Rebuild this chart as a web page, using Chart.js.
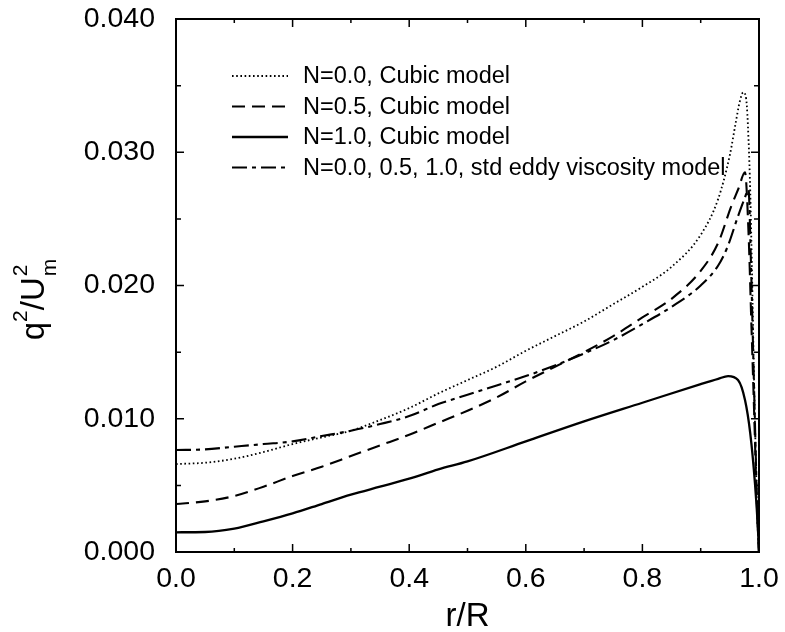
<!DOCTYPE html>
<html><head><meta charset="utf-8">
<script src="https://cdn.jsdelivr.net/npm/chart.js@4.4.1/dist/chart.umd.min.js"></script>
<style>html,body{margin:0;padding:0;background:#fff}#wrap{width:785px;height:632px}</style>
</head><body><div id="wrap"><canvas id="c" width="785" height="632"></canvas></div>
<script>
// ---- data ----
const seriesLabels = [
  'N=0.0, Cubic model',
  'N=0.5, Cubic model',
  'N=1.0, Cubic model',
  'N=0.0, 0.5, 1.0, std eddy viscosity model'
];
const rN00 = [0,0.05,0.1,0.15,0.2,0.25,0.3,0.35,0.4,0.45,0.5,0.55,0.6,0.65,0.7,0.75,0.8,0.85,0.9,0.93,0.95,0.96,0.967,0.973,0.978,0.982,0.985,0.988,0.991,0.994,0.997,1.0];
const qN00 = [0.0066,0.0067,0.0070,0.0075,0.0081,0.0086,0.0091,0.0099,0.0108,0.0119,0.0129,0.0139,0.0151,0.0162,0.0173,0.0186,0.0199,0.0214,0.0238,0.0265,0.0298,0.0322,0.0338,0.0345,0.0340,0.0310,0.0270,0.0210,0.0140,0.0080,0.0030,0.0];
const rN05 = [0,0.05,0.1,0.15,0.2,0.25,0.3,0.35,0.4,0.45,0.5,0.55,0.6,0.65,0.7,0.75,0.8,0.85,0.9,0.93,0.952,0.965,0.976,0.982,0.987,0.992,0.996,1.0];
const qN05 = [0.0036,0.0038,0.0042,0.0049,0.0057,0.0064,0.0072,0.0080,0.0088,0.0097,0.0106,0.0116,0.0128,0.0139,0.0150,0.0162,0.0176,0.0190,0.0211,0.0232,0.0259,0.0273,0.0285,0.0240,0.0170,0.0100,0.0040,0.0];
const rN10 = [0,0.05,0.1,0.15,0.2,0.25,0.3,0.35,0.4,0.45,0.5,0.6,0.7,0.8,0.9,0.93,0.947,0.964,0.976,0.985,0.993,0.998,1.0];
const qN10 = [0.00148,0.0015,0.00175,0.0023,0.0029,0.0036,0.0043,0.0049,0.0055,0.0062,0.0068,0.0083,0.0098,0.0112,0.0126,0.0130,0.0132,0.0129,0.0114,0.0089,0.0052,0.0019,0.0];
const rStd = [0,0.05,0.1,0.15,0.2,0.25,0.3,0.35,0.4,0.45,0.5,0.55,0.6,0.65,0.7,0.75,0.8,0.85,0.9,0.93,0.946,0.964,0.975,0.982,0.986,0.99,0.994,0.997,1.0];
const qStd = [0.00765,0.0077,0.0079,0.0081,0.0083,0.0087,0.0091,0.0096,0.0102,0.0111,0.0118,0.0125,0.0132,0.0140,0.0149,0.0159,0.0171,0.0184,0.0200,0.0215,0.0229,0.0252,0.0265,0.0272,0.0220,0.0150,0.0080,0.0030,0.0];
const xTickLabels = [0.0,0.2,0.4,0.6,0.8,1.0];
const yTickLabels = [0.000,0.010,0.020,0.030,0.040];

const pts = (r,q) => r.map((v,i)=>({x:v,y:q[i]}));
const FONT = "'Liberation Sans', Arial, Helvetica, sans-serif";

const datasets = [
  {label:seriesLabels[0], data:pts(rN00,qN00), borderDash:[1.6,2.6], borderWidth:1.8},
  {label:seriesLabels[1], data:pts(rN05,qN05), borderDash:[13,7], borderWidth:2.1},
  {label:seriesLabels[2], data:pts(rN10,qN10), borderDash:[], borderWidth:2.3},
  {label:seriesLabels[3], data:pts(rStd,qStd), borderDash:[15,5,4,5], borderWidth:2.1}
].map(d=>Object.assign(d,{borderColor:'#000',backgroundColor:'#000',showLine:true,pointRadius:0,fill:false,cubicInterpolationMode:'monotone',borderCapStyle:'butt'}));

const decor = {
  id:'decor',
  afterDraw(chart){
    const {ctx, chartArea:a, scales:{x,y}} = chart;
    ctx.save();
    ctx.strokeStyle='#000';
    // frame
    ctx.lineWidth=2;
    ctx.strokeRect(a.left,a.top,a.right-a.left,a.bottom-a.top);
    // inward ticks on all four sides
    ctx.lineWidth=1.5;
    ctx.beginPath();
    for(let i=0;i<xTickLabels.length;i++){
      const px=x.getPixelForValue(xTickLabels[i]);
      ctx.moveTo(px,a.bottom);ctx.lineTo(px,a.bottom-8);
      ctx.moveTo(px,a.top);ctx.lineTo(px,a.top+8);
      if(i<xTickLabels.length-1){
        const pm=x.getPixelForValue((xTickLabels[i]+xTickLabels[i+1])/2);
        ctx.moveTo(pm,a.bottom);ctx.lineTo(pm,a.bottom-4);
        ctx.moveTo(pm,a.top);ctx.lineTo(pm,a.top+4);
      }
    }
    for(let i=0;i<yTickLabels.length;i++){
      const py=y.getPixelForValue(yTickLabels[i]);
      ctx.moveTo(a.left,py);ctx.lineTo(a.left+8,py);
      ctx.moveTo(a.right,py);ctx.lineTo(a.right-8,py);
      if(i<yTickLabels.length-1){
        const pm=y.getPixelForValue((yTickLabels[i]+yTickLabels[i+1])/2);
        ctx.moveTo(a.left,pm);ctx.lineTo(a.left+5,pm);
        ctx.moveTo(a.right,pm);ctx.lineTo(a.right-5,pm);
      }
    }
    ctx.stroke();

    // legend
    ctx.fillStyle='#000';
    ctx.font='23.5px '+FONT;
    ctx.textBaseline='middle';
    ctx.textAlign='left';
    chart.data.datasets.forEach((d,i)=>{
      const ly=a.top+57+i*30.5;
      ctx.save();
      ctx.lineWidth=d.borderWidth;
      ctx.setLineDash(d.borderDash);
      ctx.beginPath();ctx.moveTo(a.left+56,ly);ctx.lineTo(a.left+112,ly);ctx.stroke();
      ctx.restore();
      ctx.fillText(d.label,a.left+127,ly+1);
    });

    // x title
    ctx.font='33px '+FONT;
    ctx.textAlign='center';
    ctx.textBaseline='alphabetic';
    ctx.fillText('r/R',(a.left+a.right)/2,626);

    // y title: q^2/U_m^2 rotated
    const big='33px '+FONT, small='21px '+FONT;
    ctx.font=big; const wq=ctx.measureText('q').width, wU=ctx.measureText('/U').width;
    ctx.font=small; const w2=ctx.measureText('2').width, wm=ctx.measureText('m').width;
    const total=wq+w2+wU+Math.max(w2,wm)+1;
    ctx.translate(44,(a.top+a.bottom)/2+14);
    ctx.rotate(-Math.PI/2);
    ctx.textAlign='left';
    let cx=-total/2;
    ctx.font=big; ctx.fillText('q',cx,0); cx+=wq;
    ctx.font=small; ctx.fillText('2',cx,-17); cx+=w2;
    ctx.font=big; ctx.fillText('/U',cx,0); cx+=wU+1;
    ctx.font=small; ctx.fillText('2',cx,-17); ctx.fillText('m',cx,12);
    ctx.restore();
  }
};

new Chart(document.getElementById('c'),{
  type:'scatter',
  data:{datasets},
  options:{
    responsive:false,
    devicePixelRatio:1,
    animation:false,
    layout:{padding:{left:0,right:26,top:19,bottom:0}},
    plugins:{legend:{display:false},tooltip:{enabled:false}},
    scales:{
      x:{
        type:'linear',min:0,max:1,
        afterBuildTicks:s=>{s.ticks=xTickLabels.map(v=>({value:v}));},
        afterFit:s=>{s.height=80;s.paddingLeft=0;s.paddingRight=0;},
        grid:{display:false,drawTicks:false},
        border:{display:false},
        ticks:{color:'#000',padding:10,font:{family:FONT,size:28.5},callback:v=>Number(v).toFixed(1),maxRotation:0}
      },
      y:{
        type:'linear',min:0,max:0.04,
        afterBuildTicks:s=>{s.ticks=yTickLabels.map(v=>({value:v}));},
        afterFit:s=>{s.width=176;s.paddingTop=0;s.paddingBottom=0;},
        grid:{display:false,drawTicks:false},
        border:{display:false},
        ticks:{color:'#000',padding:21,font:{family:FONT,size:28.5},callback:v=>Number(v).toFixed(3)}
      }
    }
  },
  plugins:[decor]
});
</script></body></html>
